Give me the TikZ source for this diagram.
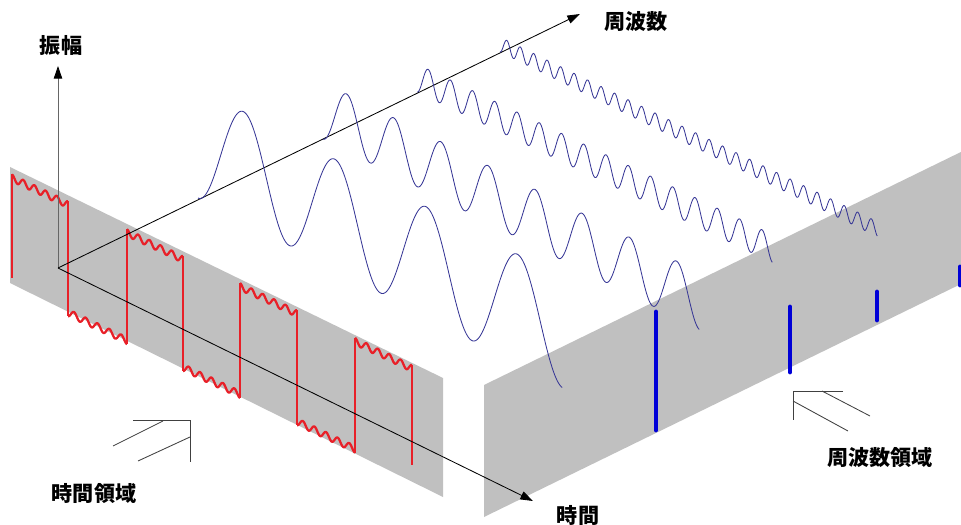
\documentclass[tikz,border=0pt]{standalone}
\usepackage{fontspec}
\usepackage{tikz}
\usetikzlibrary{arrows.meta}
\newfontfamily\jpfont{Noto Sans CJK JP}
\definecolor{planegray}{RGB}{192,192,192}
\definecolor{wavered}{RGB}{232,32,40}
\definecolor{waveblue}{RGB}{55,55,150}
\definecolor{barblue}{RGB}{0,0,215}

\begin{document}
\begin{tikzpicture}[x=0.025cm, y=-0.025cm,
  axis/.style={line width=0.6pt, -{Triangle[length=9pt, width=6pt, black]}},
  plane/.style={fill=planegray},
  squarewave/.style={wavered, line width=1.6pt, line join=round},
  harmonic/.style={waveblue, line width=0.6pt},
  specbar/.style={barblue, line width=3.5pt, line cap=round},
  viewmark/.style={black!75, line width=0.6pt},
  jptext/.style={font=\jpfont\bfseries\fontsize{15}{18}\selectfont, inner sep=0pt}]
\useasboundingbox (0,0) rectangle (961,525);
% Planes (time domain / frequency domain)
\fill[plane] (10,167) -- (443,378) -- (443,497) -- (10,283) -- cycle;
\fill[plane] (484,385) -- (965,150) -- (965,282) -- (484,517) -- cycle;
% Square wave with ripples
\foreach \a/\b/\s in {12/68/-1, 68/127/1, 127/183/-1, 183/240/1, 240/297/-1, 297/355/1, 355/412/-1} {
    \draw[squarewave] plot[domain=\a:\b, samples=61]
        (\x, {178+0.476*(\x-12)+(\s+1)/2*108+\s*3.5*cos(1800/(\b-\a)*(\x-\a))});
}
\foreach \t in {68,127,183,240,297,355}
    \draw[squarewave] (\t,{178+0.476*(\t-12)-3.5}) -- (\t,{178+0.476*(\t-12)+111.5});
\draw[squarewave] (12,174.5) -- (12,278);
\draw[squarewave] (412,{178+0.476*400-3.5}) -- (412,465);
% Axes
\coordinate (O) at (58,268);
\coordinate (amptip) at (58,66);
\coordinate (freqtip) at (580,14);
\coordinate (timetip) at (533,501);
\draw[axis, black!60] (O) -- (amptip);
\draw[axis] (O) -- (freqtip);
\draw[axis] (O) -- (timetip);
% Harmonics along the frequency axis
\foreach \sx/\sy/\ex/\ey/\amp/\cyc in {198/198/563/388/110/4, 323/139/700/330/57/8,
                                       417/92/773/263/28/16, 500/52/878/237/15/28} {
    \draw[harmonic] plot[domain=0:1, samples=450]
        ({\sx+\x*(\ex-\sx)}, {\sy+\x*(\ey-\sy)-\amp/2*(1-cos(360*\cyc*\x))});
}
% Spectrum lines
\foreach \bx/\btop/\bbot in {656/312/430, 790/307/372, 877/292/320, 960/267/285}
    \draw[specbar] (\bx,\btop) -- (\bx,\bbot);
% View marks
\draw[viewmark] (133,420) -- (190,420) -- (190,462);
\draw[viewmark] (113,446) -- (163,421);
\draw[viewmark] (138,461) -- (190,437);
\draw[viewmark] (843,391) -- (793,391) -- (793,420);
\draw[viewmark] (822,391) -- (870,416);
\draw[viewmark] (793,401) -- (848,431);
% Labels
\node[jptext] (amplbl) at (61,45) {振幅};
\node[jptext] (freqlbl) at (636,22) {周波数};
\node[jptext] (timelbl) at (578,515) {時間};
\node[jptext] (tdlbl) at (94,494) {時間領域};
\node[jptext] (fdlbl) at (880,458) {周波数領域};
\end{tikzpicture}
\end{document}
